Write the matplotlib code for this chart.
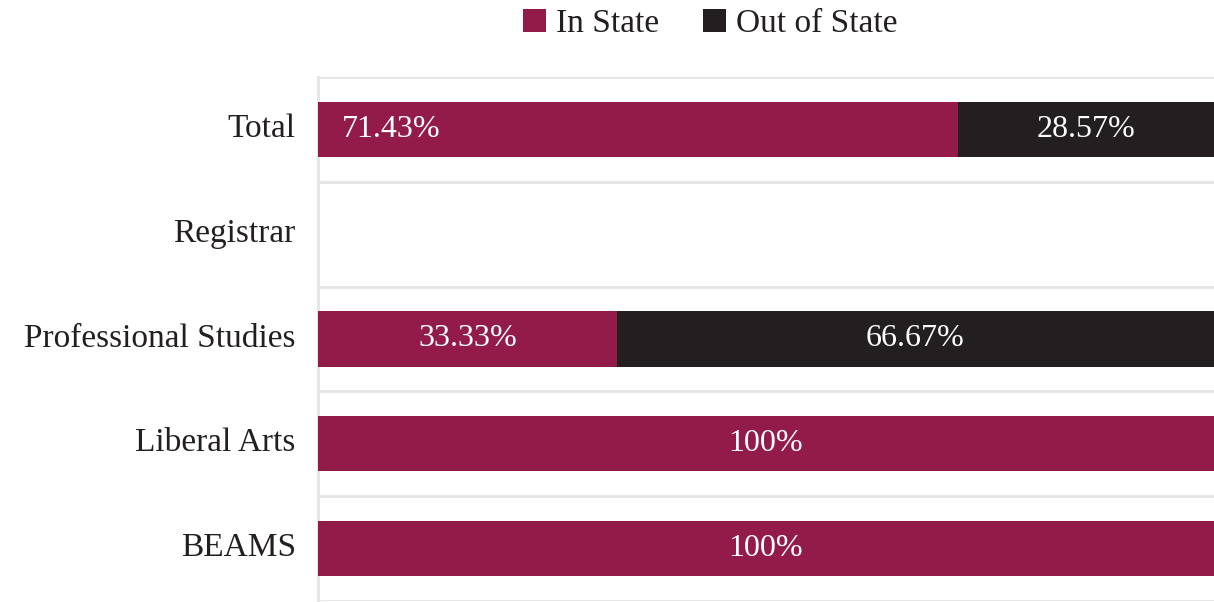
import numpy as np
import matplotlib.pyplot as plt

# 类别与数值 (百分比)
categories = ['Total', 'Registrar', 'Professional Studies', 'Liberal Arts', 'BEAMS']
in_state = [71.43, 0, 33.33, 100, 100]
out_state = [28.57, 0, 66.67, 0, 0]
in_labels = ['71.43%', '', '33.33%', '100%', '100%']
out_labels = ['28.57%', '', '66.67%', '', '']

c_in = '#931b4a'
c_out = '#231f20'
c_grid = '#e5e6e8'

plt.rcParams['font.family'] = ['Liberation Serif', 'DejaVu Serif']

fig = plt.figure(figsize=(12.14, 6.02), dpi=100)
ax = fig.add_axes([318 / 1214, 1 / 602, 1 - 318 / 1214, (601 - 77) / 602])

y = np.arange(len(categories))
h = 0.525
ax.barh(y, in_state, height=h, color=c_in, label='In State', zorder=3)
ax.barh(y, out_state, left=in_state, height=h, color=c_out, label='Out of State', zorder=3)

# 数据标签
fs_lab = 23
for i in range(len(categories)):
    if in_labels[i]:
        if i == 0:
            ax.text(2.7, y[i], in_labels[i], ha='left', va='center', color='white', fontsize=fs_lab, zorder=4)
        else:
            ax.text(in_state[i] / 2, y[i], in_labels[i], ha='center', va='center', color='white',
                    fontsize=fs_lab, zorder=4)
    if out_labels[i]:
        ax.text(in_state[i] + out_state[i] / 2, y[i], out_labels[i], ha='center', va='center',
                color='white', fontsize=fs_lab, zorder=4)

# 分隔线
for e in np.arange(-0.5, len(categories), 1.0):
    ax.axhline(e, color=c_grid, lw=2.2, zorder=1)

ax.set_xlim(0, 100)
ax.set_ylim(len(categories) - 0.5, -0.5)
ax.set_yticks(y - 0.04)
ax.set_yticklabels(categories, fontsize=24, color='#231f20')
ax.set_xticks([])
ax.tick_params(axis='y', length=0, pad=16)
for s in ['top', 'right', 'bottom']:
    ax.spines[s].set_visible(False)
ax.spines['left'].set_color(c_grid)
ax.spines['left'].set_linewidth(2.2)

fig.legend(loc='center', bbox_to_anchor=(0.585, 1 - 24 / 602), ncol=2, frameon=False,
           fontsize=24, handlelength=0.7, handleheight=0.7, handletextpad=0.3,
           columnspacing=1.3, labelcolor='#231f20')

fig.savefig('out.png', dpi=100)
